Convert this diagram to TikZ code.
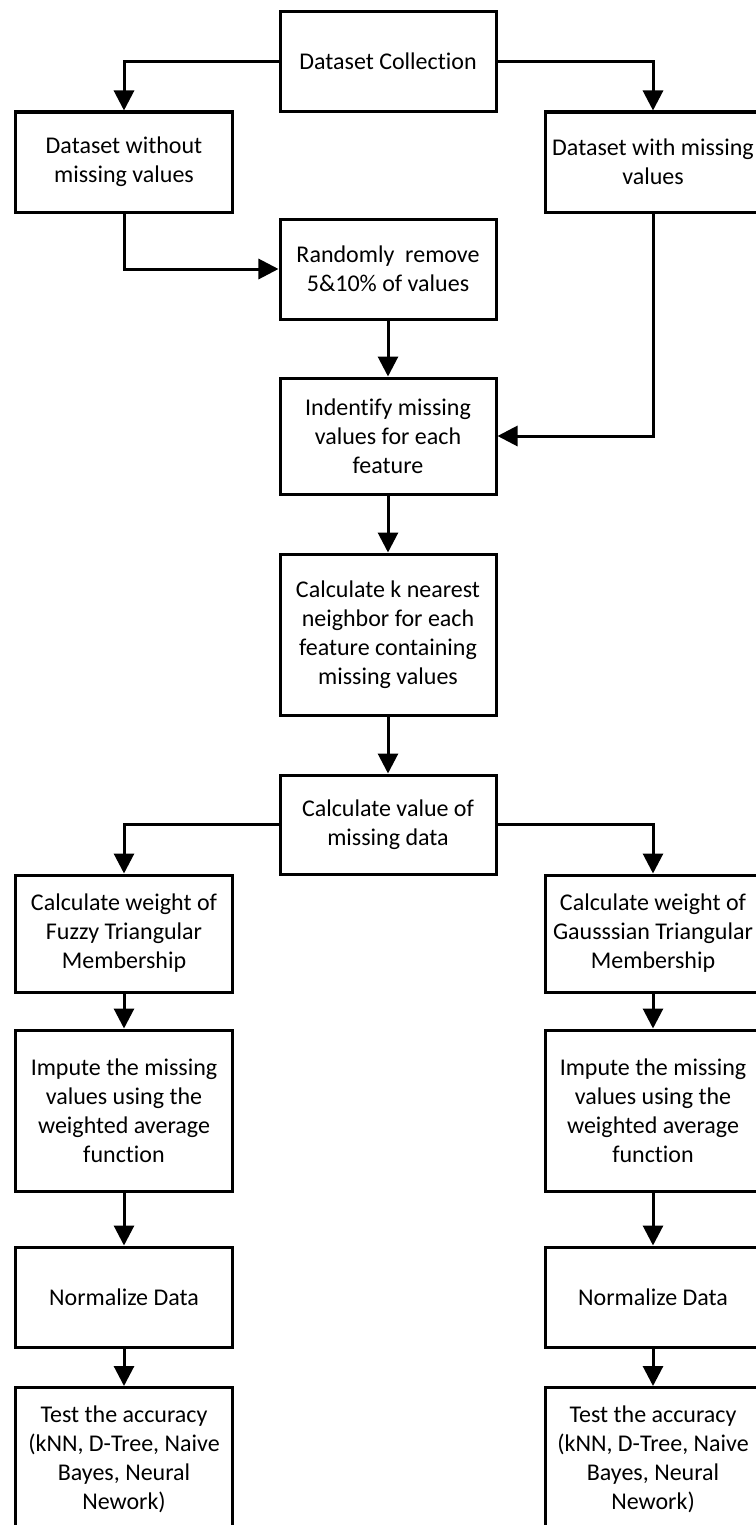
\documentclass[tikz,border=0pt]{standalone}
\usepackage{fontspec}
\setmainfont[Ligatures=NoCommon]{Carlito}
\usetikzlibrary{arrows.meta}
\tikzset{
  box/.style={draw, line width=1.5bp, minimum width=108bp, align=center,
    font=\fontsize{12bp}{14.5bp}\selectfont, inner sep=0pt},
  arr/.style={line width=1.5bp, -{Triangle[width=10bp,length=10bp]}}
}
\begin{document}
\begin{tikzpicture}[x=0.5bp,y=-0.5bp]
        \useasboundingbox (0,0) rectangle (756,1525);
        \clip (0,0) rectangle (756,1525);
        %% top part
        \node[box, minimum height=49.5bp] (coll) at (388,61.5) {Dataset Collection};
        \node[box, minimum height=50bp] (without) at (124,162) {Dataset without\\missing values};
        \node[box, minimum height=50bp] (with) at (653,162) {Dataset with missing\\values};
        \node[box, minimum height=50bp] (remove) at (388,269) {Randomly\ \ remove\\5\&10\% of values};
        \node[box, minimum height=58bp] (ident) at (388,436) {Indentify missing\\values for each\\feature};
        \node[box, minimum height=80.5bp] (knn) at (388,634.5) {Calculate k nearest\\neighbor for each\\feature containing\\missing values};
        \node[box, minimum height=49.5bp] (value) at (388,824.5) {Calculate value of\\missing data};
        %% left column
        \node[box, minimum height=58.5bp] (fuzzy) at (124,933.5) {Calculate weight of\\Fuzzy Triangular\\Membership};
        \node[box, minimum height=80.5bp] (impL) at (124,1110.5) {Impute the missing\\values using the\\weighted average\\function};
        \node[box, minimum height=50bp] (normL) at (124,1297) {Normalize Data};
        \node[box, minimum height=72bp, anchor=north] (testL) at (124,1386) {Test the accuracy\\(kNN, D-Tree, Naive\\Bayes, Neural\\Nework)};
        %% right column
        \node[box, minimum height=58.5bp] (gauss) at (653,933.5) {Calculate weight of\\Gausssian Triangular\\Membership};
        \node[box, minimum height=80.5bp] (impR) at (653,1110.5) {Impute the missing\\values using the\\weighted average\\function};
        \node[box, minimum height=50bp] (normR) at (653,1297) {Normalize Data};
        \node[box, minimum height=72bp, anchor=north] (testR) at (653,1386) {Test the accuracy\\(kNN, D-Tree, Naive\\Bayes, Neural\\Nework)};
        %% connectors
        \draw[arr] (coll.west) -| (without.north);
        \draw[arr] (coll.east) -| (with.north);
        \draw[arr] (without.south) |- (remove.west);
        \draw[arr] (with.south) |- (ident.east);
        \draw[arr] (remove) -- (ident);
        \draw[arr] (ident) -- (knn);
        \draw[arr] (knn) -- (value);
        \draw[arr] (value.west) -| (fuzzy.north);
        \draw[arr] (value.east) -| (gauss.north);
        \draw[arr] (fuzzy) -- (impL);
        \draw[arr] (impL) -- (normL);
        \draw[arr] (normL) -- (testL);
        \draw[arr] (gauss) -- (impR);
        \draw[arr] (impR) -- (normR);
        \draw[arr] (normR) -- (testR);
\end{tikzpicture}
\end{document}
